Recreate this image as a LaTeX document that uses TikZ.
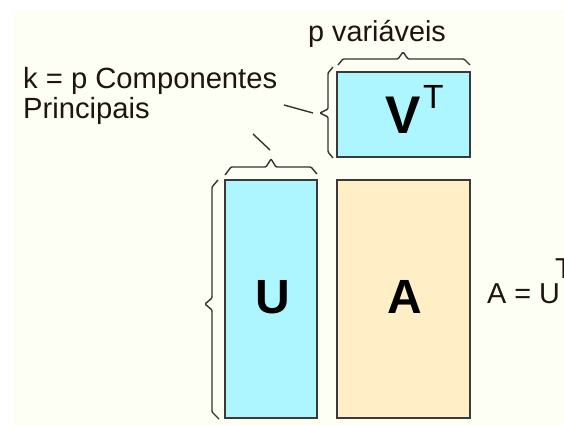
\documentclass[tikz,border=0pt]{standalone}
\usepackage{fontspec}
\setmainfont{Liberation Sans}
\definecolor{bgivory}{HTML}{FDFEF4}
\definecolor{matcyan}{HTML}{AEF6FF}
\definecolor{matpeach}{HTML}{FFEEC6}
\definecolor{matborder}{HTML}{3A3A3A}
\definecolor{bracecol}{HTML}{333333}
\definecolor{txtcol}{HTML}{1E1410}
\tikzset{
  matbox/.style={draw=matborder, line width=2pt, inner sep=0pt},
  bracestyle/.style={draw=bracecol, line width=1.4pt, rounded corners=1pt},
  leader/.style={draw=bracecol, line width=1.4pt},
  lbl/.style={inner sep=0pt, anchor=base west, text=txtcol, font=\fontsize{28.8}{29}\selectfont},
  bigletter/.style={inner sep=0pt, text=black, font=\fontsize{48}{48}\selectfont\bfseries}
}
\begin{document}
\begin{tikzpicture}[x=1pt,y=-1pt]
\useasboundingbox (0,0) rectangle (564,425);
\fill[white] (0,0) rectangle (564,425);
\fill[bgivory] (13,10) rectangle (564,425);

% matrices
\node[matbox, fill=matcyan, minimum width=133pt, minimum height=85pt] (Vbox) at (403.5,114.5) {};
\node[matbox, fill=matcyan, minimum width=92pt, minimum height=238pt] (Ubox) at (271,299) {};
\node[matbox, fill=matpeach, minimum width=133pt, minimum height=238pt] (Abox) at (403.5,299) {};

% letters
\node[inner sep=0pt, anchor=base west, font=\fontsize{53}{53}\selectfont\bfseries] (Vletter) at (385,133) {V};
\node[inner sep=0pt, anchor=base west, font=\fontsize{33.5}{33.5}\selectfont] (Vsup) at (423,108) {T};
\node[bigletter] (Uletter) at (273,297) {U};
\node[bigletter] (Aletter) at (405,297) {A};

% braces
\draw[bracestyle] (338,65) -- (343,59) -- (398,59) -- (403,52) -- (408,59) -- (464,59) -- (470,65);
\draw[bracestyle] (333,67) -- (328,73) -- (328,109) -- (320,113) -- (328,117) -- (328,152) -- (333,158);
\draw[bracestyle] (225,175) -- (231,167) -- (266,167) -- (271,159) -- (276,167) -- (311,167) -- (317,174);
\draw[bracestyle] (218,180) -- (212,187) -- (212,298) -- (205,304) -- (212,310) -- (212,412) -- (219,419);

% leader lines
\coordinate (l1a) at (284,105);
\coordinate (l1b) at (313,113);
\coordinate (l2a) at (253,134);
\coordinate (l2b) at (270,150);
\draw[leader] (l1a) -- (l1b);
\draw[leader] (l2a) -- (l2b);

% labels
\node[lbl] (pvar) at (308,42) {p variáveis};
\node[lbl, font=\fontsize{29.2}{29}\selectfont] (kcomp) at (23,89) {k = p Componentes};
\node[lbl, font=\fontsize{29.2}{29}\selectfont] (princ) at (23,118) {Principais};
\node[lbl] (eq) at (487,303) {A = U};
\node[lbl] (eqT) at (555,278) {T};
\end{tikzpicture}
\end{document}
